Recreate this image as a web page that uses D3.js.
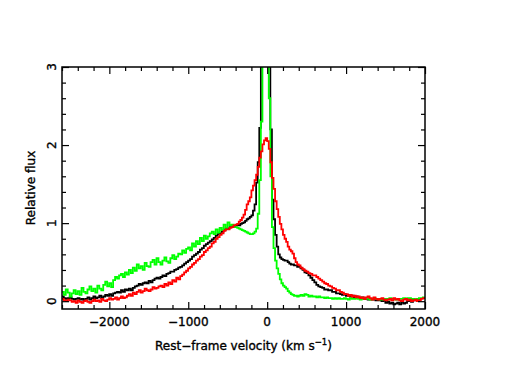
<!DOCTYPE html>
<html>
<head>
<meta charset="utf-8">
<script src="https://cdn.jsdelivr.net/npm/d3@7"></script>
<style>
  body { margin: 0; background: #fff; }
  svg text { font-family: "DejaVu Sans", sans-serif; fill: #000; stroke: #000; stroke-width: 0.35px; }
</style>
</head>
<body>
<div id="chart"></div>
<script>
// bin centres (km/s): 25 km/s bins in the wings, 20 km/s in the core
var velocity = [
  -2590, -2565, -2540, -2515, -2490, -2465, -2440, -2415, -2390, -2365,
  -2340, -2315, -2290, -2265, -2240, -2215, -2190, -2165, -2140, -2115,
  -2090, -2065, -2040, -2015, -1990, -1965, -1940, -1915, -1890, -1865,
  -1840, -1815, -1790, -1765, -1740, -1715, -1690, -1665, -1640, -1615,
  -1590, -1565, -1540, -1515, -1490, -1465, -1440, -1415, -1390, -1365,
  -1340, -1315, -1290, -1265, -1240, -1215, -1190, -1165, -1140, -1115,
  -1090, -1065, -1040, -1015, -990, -965, -940, -915, -890, -865,
  -840, -815, -790, -765, -740, -715, -690, -665, -640, -615,
  -590, -565, -540, -515, -490, -465, -440, -415,
  -390, -370, -350, -330, -310, -290, -270, -250, -230, -210,
  -190, -170, -150, -130, -110, -90, -70, -50, -30, -10,
  10, 30, 50, 70, 90, 110, 130, 150, 170, 190,
  210, 230, 250, 270, 290, 310, 330, 350, 370, 390,
  410, 435, 460, 485, 510, 535, 560, 585, 610, 635,
  660, 685, 710, 735, 760, 785, 810, 835, 860, 885,
  910, 935, 960, 985, 1010, 1035, 1060, 1085, 1110, 1135,
  1160, 1185, 1210, 1235, 1260, 1285, 1310, 1335, 1360, 1385,
  1410, 1435, 1460, 1485, 1510, 1535, 1560, 1585, 1610, 1635,
  1660, 1685, 1710, 1735, 1760, 1785, 1810, 1835, 1860, 1885,
  1910, 1935, 1960, 1985
];

var fluxBlack = [
  0.06, 0.04, 0.03, 0.04, 0.05, 0.03, 0.02, 0.03, 0.04, 0.02,
  0.03, 0.01, 0.03, 0.05, 0.02, 0.04, 0.06, 0.04, 0.05, 0.07,
  0.04, 0.06, 0.08, 0.07, 0.09, 0.07, 0.10, 0.11, 0.12, 0.11,
  0.14, 0.12, 0.15, 0.14, 0.16, 0.14, 0.17, 0.19, 0.20, 0.22,
  0.21, 0.23, 0.24, 0.23, 0.26, 0.24, 0.27, 0.29, 0.30, 0.29,
  0.31, 0.33, 0.32, 0.35, 0.36, 0.38, 0.38, 0.40, 0.41, 0.43,
  0.44, 0.46, 0.48, 0.50, 0.52, 0.54, 0.57, 0.59, 0.61, 0.63,
  0.66, 0.68, 0.71, 0.73, 0.75, 0.77, 0.79, 0.81, 0.84, 0.86,
  0.87, 0.89, 0.91, 0.93, 0.93, 0.95, 0.95, 0.96,
  0.97, 0.98, 0.97, 0.99, 1.00, 1.01, 1.03, 1.05, 1.06, 1.08,
  1.10, 1.16, 1.24, 1.52, 1.78, 2.22, 3.6, 4.5, 5.0, 4.5,
  4.0, 3.2, 2.2, 1.3, 1.05, 0.85, 0.70, 0.60, 0.56, 0.54,
  0.53, 0.52, 0.52, 0.50, 0.48, 0.47, 0.47, 0.46, 0.46, 0.44,
  0.44, 0.42, 0.40, 0.37, 0.36, 0.33, 0.30, 0.27, 0.24, 0.21,
  0.19, 0.18, 0.17, 0.15, 0.15, 0.14, 0.14, 0.12, 0.12, 0.10,
  0.10, 0.09, 0.08, 0.09, 0.07, 0.08, 0.06, 0.07, 0.05, 0.06,
  0.05, 0.04, 0.05, 0.03, 0.04, 0.02, 0.03, 0.02, 0.02, 0.01,
  0.01, 0.02, 0.00, 0.01, -0.02, -0.01, -0.03, -0.02, -0.04, -0.03,
  -0.02, -0.04, -0.01, -0.03, -0.02, 0.00, 0.01, -0.01, 0.02, 0.01,
  0.03, 0.02
];

var fluxGreen = [
  0.12, 0.08, 0.15, 0.11, 0.06, 0.10, 0.14, 0.09, 0.13, 0.08,
  0.17, 0.12, 0.10, 0.15, 0.19, 0.13, 0.16, 0.11, 0.20, 0.16,
  0.14, 0.21, 0.25, 0.19, 0.23, 0.18, 0.27, 0.31, 0.29, 0.33,
  0.35, 0.31, 0.37, 0.34, 0.40, 0.36, 0.43, 0.39, 0.47, 0.42,
  0.45, 0.40, 0.49, 0.45, 0.44, 0.50, 0.53, 0.47, 0.55, 0.50,
  0.47, 0.52, 0.56, 0.51, 0.49, 0.55, 0.59, 0.54, 0.57, 0.61,
  0.60, 0.65, 0.62, 0.67, 0.69, 0.65, 0.74, 0.70, 0.77, 0.73,
  0.81, 0.77, 0.84, 0.80, 0.83, 0.87, 0.89, 0.86, 0.92, 0.88,
  0.94, 0.91, 0.98, 0.94, 1.01, 0.97, 0.98, 0.95,
  0.95, 0.94, 0.93, 0.92, 0.91, 0.90, 0.89, 0.88, 0.87, 0.86,
  0.86, 0.87, 0.89, 0.93, 1.12, 1.55, 2.3, 4.5, 6.0, 6.0,
  5.5, 2.6, 1.6, 0.95, 0.68, 0.52, 0.42, 0.35, 0.28, 0.23,
  0.20, 0.18, 0.16, 0.13, 0.11, 0.09, 0.08, 0.07, 0.07, 0.06,
  0.07, 0.08, 0.07, 0.09, 0.08, 0.06, 0.07, 0.06, 0.06, 0.05,
  0.06, 0.05, 0.05, 0.04, 0.05, 0.04, 0.04, 0.03, 0.04, 0.03,
  0.04, 0.03, 0.03, 0.04, 0.03, 0.02, 0.04, 0.03, 0.03, 0.04,
  0.03, 0.02, 0.03, 0.04, 0.04, 0.03, 0.02, 0.03, 0.04, 0.03,
  0.03, 0.02, 0.02, 0.03, 0.03, 0.02, 0.04, 0.03, 0.03, 0.02,
  0.02, 0.03, 0.03, 0.04, 0.03, 0.04, 0.04, 0.03, 0.03, 0.02,
  0.03, 0.04, 0.04, 0.05
];

var fluxRed = [
  0.03, 0.01, 0.00, 0.02, 0.01, -0.01, 0.00, -0.02, 0.01, -0.01,
  -0.02, 0.00, 0.01, -0.01, -0.02, 0.00, 0.02, 0.00, 0.01, -0.01,
  0.03, 0.01, 0.00, 0.02, 0.04, 0.02, 0.03, 0.05, 0.02, 0.04,
  0.06, 0.04, 0.05, 0.07, 0.09, 0.07, 0.11, 0.09, 0.12, 0.14,
  0.11, 0.13, 0.16, 0.14, 0.13, 0.15, 0.18, 0.16, 0.17, 0.19,
  0.20, 0.18, 0.22, 0.20, 0.24, 0.22, 0.27, 0.25, 0.30, 0.28,
  0.32, 0.34, 0.37, 0.39, 0.42, 0.44, 0.47, 0.49, 0.52, 0.54,
  0.57, 0.59, 0.63, 0.65, 0.68, 0.70, 0.74, 0.76, 0.80, 0.82,
  0.85, 0.87, 0.90, 0.92, 0.92, 0.94, 0.95, 0.97,
  0.98, 0.99, 1.02, 1.04, 1.07, 1.11, 1.17, 1.24, 1.28, 1.33,
  1.42, 1.48, 1.55, 1.62, 1.72, 1.84, 1.92, 2.01, 2.06, 2.09,
  2.05, 1.95, 1.78, 1.58, 1.44, 1.28, 1.18, 1.08, 0.99, 0.92,
  0.85, 0.80, 0.76, 0.70, 0.66, 0.64, 0.61, 0.55, 0.50, 0.47,
  0.46, 0.43, 0.41, 0.39, 0.38, 0.36, 0.35, 0.33, 0.33, 0.31,
  0.29, 0.27, 0.25, 0.23, 0.22, 0.20, 0.19, 0.17, 0.16, 0.14,
  0.14, 0.12, 0.11, 0.09, 0.09, 0.07, 0.08, 0.06, 0.07, 0.05,
  0.06, 0.04, 0.05, 0.03, 0.05, 0.06, 0.04, 0.02, 0.05, 0.03,
  0.02, 0.03, 0.04, 0.02, 0.01, 0.02, 0.03, 0.01, 0.04, 0.02,
  0.03, 0.01, 0.00, 0.02, 0.03, 0.01, 0.02, 0.00, 0.01, 0.02,
  0.00, 0.01, 0.03, 0.04
];

var xTicks = [-2000, -1000, 0, 1000, 2000];
var yTicks = [0, 1, 2, 3];

var margin = {top: 67, right: 93, bottom: 57, left: 62},
    width = 518 - margin.left - margin.right,
    height = 366 - margin.top - margin.bottom;

var svg = d3.select("#chart")
  .append("svg")
    .attr("width", 518)
    .attr("height", 366)
  .append("g")
    .attr("transform", "translate(" + margin.left + "," + margin.top + ")");

var x = d3.scaleLinear().domain([-2600, 2000]).range([0, width]);
var y = d3.scaleLinear().domain([-0.1, 3]).range([height, 0]);

svg.append("clipPath")
    .attr("id", "plotclip")
  .append("rect")
    .attr("width", width)
    .attr("height", height);

// spectra as histograms, stretched to the frame edges
function series(flux) {
  var pts = velocity.map(function(v, i) { return [v, flux[i]]; });
  pts.unshift([x.domain()[0], flux[0]]);
  pts.push([x.domain()[1], flux[flux.length - 1]]);
  return pts;
}

var line = d3.line()
    .x(function(d) { return x(d[0]); })
    .y(function(d) { return y(d[1]); })
    .curve(d3.curveStep);

var spectra = [
  {flux: fluxBlack, color: "#000000"},
  {flux: fluxGreen, color: "#00ff00"},
  {flux: fluxRed, color: "#ff0000"}
];

svg.append("g")
    .attr("clip-path", "url(#plotclip)")
  .selectAll("path")
  .data(spectra)
  .enter()
  .append("path")
    .attr("d", function(d) { return line(series(d.flux)); })
    .attr("fill", "none")
    .attr("stroke", function(d) { return d.color; })
    .attr("stroke-width", 1.8);

// ticks pointing inwards on all four sides
var xMinor = d3.range(-2600, 2001, 200).filter(function(v) { return xTicks.indexOf(v) < 0; });
var yMinor = d3.range(0, 3.01, 0.2).map(function(v) { return +v.toFixed(1); })
    .filter(function(v) { return yTicks.indexOf(v) < 0; });

function drawTicks(axisFn, scale, values, size, transform) {
  svg.append("g")
      .attr("transform", transform)
      .call(axisFn(scale).tickValues(values).tickSize(size).tickFormat(""))
      .call(function(g) {
        g.select(".domain").remove();
        g.selectAll("line").attr("stroke", "#000").attr("stroke-width", 1.2);
      });
}

drawTicks(d3.axisBottom, x, xTicks, -7, "translate(0," + height + ")");
drawTicks(d3.axisBottom, x, xMinor, -4, "translate(0," + height + ")");
drawTicks(d3.axisTop, x, xTicks, -7, "translate(0,0)");
drawTicks(d3.axisTop, x, xMinor, -4, "translate(0,0)");
drawTicks(d3.axisLeft, y, yTicks, -7, "translate(0,0)");
drawTicks(d3.axisLeft, y, yMinor, -4, "translate(0,0)");
drawTicks(d3.axisRight, y, yTicks, -7, "translate(" + width + ",0)");
drawTicks(d3.axisRight, y, yMinor, -4, "translate(" + width + ",0)");

svg.append("rect")
    .attr("width", width)
    .attr("height", height)
    .attr("fill", "none")
    .attr("stroke", "#000")
    .attr("stroke-width", 1.5);

// tick labels
svg.selectAll(".xlab")
  .data(xTicks)
  .enter()
  .append("text")
    .attr("x", function(d) { return x(d); })
    .attr("y", height + 17)
    .attr("text-anchor", "middle")
    .style("font-size", "12px")
    .text(function(d) { return d < 0 ? "\u2212" + Math.abs(d) : d; });

svg.selectAll(".ylab")
  .data(yTicks)
  .enter()
  .append("text")
    .attr("transform", function(d) { return "translate(-6," + y(d) + ") rotate(-90)"; })
    .attr("text-anchor", "middle")
    .style("font-size", "12px")
    .text(function(d) { return d; });

// axis titles
var xt = svg.append("text")
    .attr("x", width / 2)
    .attr("y", height + 41)
    .attr("text-anchor", "middle")
    .style("font-size", "12px");
xt.append("tspan").text("Rest\u2212frame velocity (km s");
xt.append("tspan").attr("dy", -5).style("font-size", "8.5px").text("\u22121");
xt.append("tspan").attr("dy", 5).text(")");

svg.append("text")
    .attr("transform", "translate(-27," + (height / 2) + ") rotate(-90)")
    .attr("text-anchor", "middle")
    .style("font-size", "12px")
    .text("Relative flux");
</script>
</body>
</html>
